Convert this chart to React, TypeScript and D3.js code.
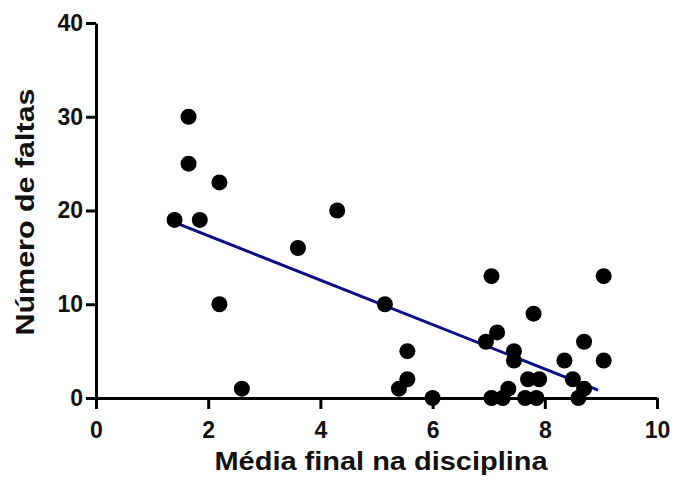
import React, { useEffect, useRef } from "react";
import * as d3 from "d3";

// Média final na disciplina
const media = [
  1.65, 1.65, 2.2, 1.4, 1.85, 2.2, 2.6, 3.6, 4.3, 5.15, 5.55, 5.55, 5.4, 6.0,
  7.05, 9.05, 7.8, 7.15, 6.95, 7.45, 7.45, 8.7, 8.35, 9.05, 7.7, 7.9, 8.5, 8.7,
  7.35, 7.05, 7.25, 7.65, 7.85, 8.6,
];
// Número de faltas
const faltas = [
  30, 25, 23, 19, 19, 10, 1, 16, 20, 10, 5, 2, 1, 0, 13, 13, 9, 7, 6, 5, 4, 6,
  4, 4, 2, 2, 2, 1, 1, 0, 0, 0, 0, 0,
];
const xTicks = [0, 2, 4, 6, 8, 10];
const yTicks = [0, 10, 20, 30, 40];

const App = () => {
  const ref = useRef<SVGSVGElement>(null);

  useEffect(() => {
    draw();
  });

  let draw = () => {
    const svg = d3.select(ref.current);
    svg.selectAll("*").remove();

    const x = d3.scaleLinear().domain([0, 10]).range([96, 657]);
    const y = d3.scaleLinear().domain([0, 40]).range([398, 23]);
    const font = "'Liberation Sans', Arial, sans-serif";

    // y axis
    const yAxis = svg
      .append("g")
      .attr("transform", "translate(96,0)")
      .call(d3.axisLeft(y).tickValues(yTicks).tickSize(10).tickPadding(3).tickSizeOuter(0));
    // x axis
    const xAxis = svg
      .append("g")
      .attr("transform", "translate(0,398)")
      .call(d3.axisBottom(x).tickValues(xTicks).tickSize(11).tickPadding(13).tickSizeOuter(0));

    [xAxis, yAxis].forEach((a) => {
      a.select(".domain").attr("stroke", "#000").attr("stroke-width", 3);
      a.selectAll(".tick line").attr("stroke", "#000").attr("stroke-width", 3);
      a.selectAll(".tick text")
        .attr("fill", "#111")
        .style("font-family", font)
        .style("font-weight", "bold")
        .style("font-size", "23px");
    });

    // regression line (least squares)
    const pts = media.map((m, i) => [m, faltas[i]]);
    const mx = d3.mean(media)!;
    const my = d3.mean(faltas)!;
    const sxy = d3.sum(pts, (p) => (p[0] - mx) * (p[1] - my));
    const sxx = d3.sum(media, (m) => (m - mx) ** 2);
    const slope = sxy / sxx;
    const icpt = my - slope * mx;
    const x0 = d3.min(media)!;
    const x1 = 8.95;
    svg
      .append("line")
      .attr("x1", x(x0))
      .attr("y1", y(icpt + slope * x0))
      .attr("x2", x(x1))
      .attr("y2", y(icpt + slope * x1))
      .attr("stroke", "#0d0d8a")
      .attr("stroke-width", 3);

    svg
      .selectAll("circle")
      .data(pts)
      .enter()
      .append("circle")
      .attr("cx", (d) => x(d[0]))
      .attr("cy", (d) => y(d[1]))
      .attr("r", 8)
      .attr("fill", "#000");

    svg
      .append("text")
      .attr("x", 381)
      .attr("y", 470)
      .attr("text-anchor", "middle")
      .attr("textLength", 333)
      .attr("lengthAdjust", "spacingAndGlyphs")
      .style("font-family", font)
      .style("font-weight", "bold")
      .style("font-size", "25px")
      .attr("fill", "#111")
      .text("Média final na disciplina");

    svg
      .append("text")
      .attr("transform", "translate(34,212) rotate(-90)")
      .attr("text-anchor", "middle")
      .attr("textLength", 247)
      .attr("lengthAdjust", "spacingAndGlyphs")
      .style("font-family", font)
      .style("font-weight", "bold")
      .style("font-size", "26px")
      .attr("fill", "#111")
      .text("Número de faltas");
  };

  return (
    <svg
      ref={ref}
      width={676}
      height={486}
      style={{ position: "absolute", left: 0, top: 0, background: "#fff" }}
    />
  );
};

export default App;
